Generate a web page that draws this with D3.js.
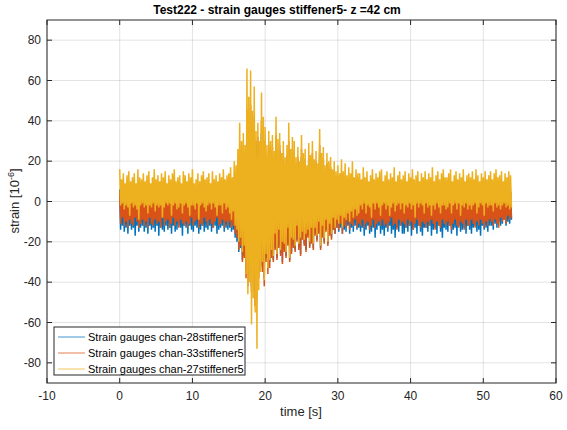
<!DOCTYPE html>
<html>
<head>
<meta charset="UTF-8">
<script src="https://d3js.org/d3.v7.min.js"></script>
<style>
  body { margin: 0; background: #fff; font-family: "Liberation Sans", Arial, sans-serif; }
  .grid line { stroke: #262626; stroke-opacity: 0.13; stroke-width: 1; }
  .tick-label { font-size: 12px; fill: #262626; }
</style>
</head>
<body>
<svg id="chart" width="567" height="430"></svg>
<script>
// one envelope sample every 0.25 s from t = 0 (12 samples = 3 s per row)
const step = 0.25;

// chan-28 (blue): upper / lower envelope
const blueHi = [
  6,3,7,4,5,2,6,4,7,3,5,4,  4,6,3,7,5,2,6,4,5,3,7,4,  5,3,6,4,7,2,5,6,3,4,6,5,
  3,6,4,5,7,3,4,6,2,5,4,6,  5,4,6,3,5,7,4,2,6,4,5,3,  6,8,5,10,12,16,20,18,24,20,38,32,
  40,30,35,26,28,22,34,29,26,20,24,22,  23,18,28,22,25,17,21,16,20,26,19,22,  21,16,19,14,22,17,18,13,20,16,21,15,
  17,13,24,16,18,12,16,14,15,11,13,10,  10,8,12,9,11,7,10,8,11,6,9,7,  5,3,6,4,7,2,5,4,6,3,5,4,
  4,6,3,5,7,4,2,6,4,5,3,6,  5,3,7,4,5,2,6,4,3,5,6,4,  6,4,5,3,7,4,5,2,6,4,5,3,
  3,5,6,4,2,6,4,5,7,3,5,4,  4,6,3,5,4,7,3,5,4,6,2,5,  5,3,6,4,5,3,6,4,5,3,4,5];
const blueLo = [
  -14,-12,-15,-13,-16,-12,-14,-13,-17,-12,-15,-13,  -12,-15,-13,-16,-12,-14,-13,-15,-12,-17,-13,-14,  -15,-12,-14,-13,-16,-12,-15,-14,-12,-13,-17,-12,
  -13,-16,-12,-14,-15,-12,-13,-16,-14,-12,-15,-13,  -14,-12,-15,-13,-12,-16,-14,-13,-12,-15,-13,-14,  -13,-15,-14,-18,-20,-25,-23,-29,-27,-34,-38,-33,
  -42,-37,-45,-40,-35,-30,-33,-38,-28,-32,-30,-26,  -29,-23,-28,-22,-26,-30,-24,-27,-21,-29,-25,-22,  -24,-19,-23,-26,-18,-21,-24,-17,-22,-20,-23,-16,
  -19,-15,-23,-17,-20,-14,-21,-16,-18,-14,-16,-13,  -15,-13,-16,-14,-15,-12,-16,-13,-15,-12,-14,-13,  -15,-13,-17,-14,-12,-16,-15,-13,-18,-14,-12,-16,
  -14,-17,-13,-15,-12,-16,-14,-18,-13,-15,-12,-16,  -16,-13,-15,-12,-17,-14,-13,-16,-12,-15,-17,-13,  -13,-15,-12,-17,-14,-13,-16,-12,-15,-18,-13,-14,
  -15,-12,-16,-14,-13,-17,-12,-15,-14,-13,-16,-12,  -14,-16,-13,-12,-15,-14,-17,-12,-14,-13,-15,-12,  -12,-14,-11,-13,-10,-12,-11,-9,-12,-10,-11,-9];

// chan-33 (orange)
const orangeHi = [
  5,2,7,3,4,1,6,3,5,2,4,6,  3,5,2,6,4,1,5,3,7,2,4,3,  4,6,2,5,3,7,1,4,5,2,6,3,
  2,5,4,7,3,1,5,4,2,6,3,5,  4,2,6,3,5,1,4,7,2,5,3,4,  5,8,6,12,14,20,25,22,28,24,45,38,
  48,36,42,30,32,25,40,34,30,22,28,25,  27,20,33,25,28,19,24,18,23,30,21,26,  24,18,22,16,26,19,21,14,23,18,24,17,
  20,15,28,19,21,14,19,16,17,12,15,11,  12,9,14,10,12,8,11,9,12,7,10,8,  5,2,6,3,4,1,5,3,6,2,4,5,
  3,5,2,6,4,1,5,3,6,2,4,3,  4,2,6,3,5,2,4,7,3,5,2,4,  6,3,4,2,5,3,6,1,4,5,3,6,
  2,5,3,6,4,2,5,3,7,2,4,5,  3,6,2,4,5,3,6,2,4,3,5,2,  5,3,6,2,4,5,3,6,2,4,3,5];
const orangeLo = [
  -11,-8,-12,-10,-13,-9,-11,-12,-8,-10,-13,-11,  -9,-12,-10,-13,-8,-11,-12,-9,-11,-10,-13,-8,  -12,-10,-9,-13,-11,-8,-12,-10,-13,-9,-11,-12,
  -10,-13,-11,-8,-12,-10,-9,-13,-11,-12,-8,-10,  -12,-9,-11,-13,-10,-8,-12,-11,-9,-13,-10,-12,  -10,-13,-12,-16,-18,-24,-22,-30,-28,-38,-42,-35,
  -45,-40,-52,-48,-38,-32,-35,-42,-30,-36,-33,-28,  -30,-24,-29,-23,-27,-31,-25,-28,-22,-30,-26,-23,  -25,-20,-24,-27,-19,-22,-25,-18,-23,-21,-24,-17,
  -20,-16,-24,-18,-21,-15,-22,-17,-19,-14,-16,-13,  -14,-11,-16,-12,-13,-10,-14,-11,-12,-9,-13,-11,  -12,-9,-13,-11,-10,-14,-12,-9,-13,-11,-10,-12,
  -9,-12,-11,-13,-10,-8,-12,-11,-14,-9,-12,-10,  -11,-13,-9,-12,-10,-14,-11,-9,-12,-13,-10,-11,  -13,-10,-12,-9,-11,-14,-10,-12,-13,-9,-11,-12,
  -10,-12,-14,-11,-9,-12,-13,-10,-11,-14,-9,-12,  -12,-9,-11,-13,-10,-12,-9,-11,-13,-10,-12,-9,  -10,-12,-9,-11,-13,-8,-10,-9,-11,-7,-9,-8];

// chan-27 (yellow)
const yellowHi = [
  16,11,14,9,13,15,10,12,14,9,16,12,  11,14,10,13,15,9,12,16,11,13,10,14,  12,15,9,13,11,14,16,10,12,13,9,15,
  13,10,14,12,16,9,11,14,10,13,15,11,  12,14,9,15,11,13,10,14,12,16,11,13,  14,17,12,20,18,26,39,30,34,28,66,52,
  65,45,57,35,39,30,54,42,37,28,35,30,  33,25,42,31,34,24,30,22,28,39,26,32,  30,22,27,20,33,24,26,18,29,23,30,21,
  25,19,36,24,27,18,24,20,22,16,20,15,  18,14,21,15,19,13,17,14,20,12,16,14,  14,11,17,12,15,10,13,16,11,14,12,15,
  16,10,13,15,11,14,12,17,10,13,15,11,  13,15,10,14,12,16,11,13,15,10,14,12,  15,11,14,12,17,10,13,15,11,14,16,12,
  12,14,16,10,13,15,11,14,12,16,10,13,  14,12,15,11,16,13,10,14,12,15,11,13,  15,11,14,16,12,13,15,10,14,12,15,13];
const yellowLo = [
  -2,-1,-4,-2,-3,-7,-1,-3,-2,-4,-9,-2,  -1,-3,-2,-6,-2,-3,-1,-5,-2,-3,-2,-8,  -3,-1,-2,-1,-7,-2,-1,-4,-3,-1,-6,-2,
  -1,-3,-7,-2,-2,-4,-1,-9,-2,-1,-3,-5,  -2,-1,-4,-1,-3,-7,-2,-2,-6,-1,-4,-3,  -6,-9,-5,-12,-14,-20,-18,-25,-22,-36,-46,-40,
  -61,-48,-55,-73,-44,-35,-30,-39,-26,-33,-29,-24,  -27,-16,-26,-14,-24,-20,-21,-25,-13,-28,-18,-19,  -22,-12,-21,-18,-15,-19,-16,-14,-20,-13,-21,-13,
  -17,-10,-22,-12,-18,-9,-20,-11,-16,-8,-13,-9,  -11,-7,-13,-8,-9,-6,-10,-5,-8,-4,-7,-6,  -2,-4,-1,-6,-2,-3,-8,-1,-4,-1,-3,-7,
  -2,-1,-4,-2,-7,-3,-1,-5,-2,-1,-4,-1,  -6,-2,-3,-1,-4,-2,-8,-1,-3,-1,-2,-6,  -1,-3,-2,-7,-2,-4,-1,-3,-6,-2,-2,-4,
  -3,-1,-6,-2,-1,-4,-1,-7,-2,-3,-1,-4,  -2,-4,-2,-1,-6,-3,-1,-2,-7,-1,-3,-2,  -2,-5,-1,-3,-2,-4,-2,-1,-3,-2,-4,-3];

const seriesNames = ["Strain gauges chan-28stiffener5", "Strain gauges chan-33stiffener5", "Strain gauges chan-27stiffener5"];
const seriesColors = ["#0072BD", "#D95319", "#EDB120"];
const xTicks = [-10, 0, 10, 20, 30, 40, 50, 60];
const yTicks = [-80, -60, -40, -20, 0, 20, 40, 60, 80];

const svg = d3.select("#chart");
const m = { left: 47, right: 556, top: 20, bottom: 383 };
const x = d3.scaleLinear().domain([-10, 60]).range([m.left, m.right]);
const y = d3.scaleLinear().domain([-90, 90]).range([m.bottom, m.top]);

// grid
const grid = svg.append("g").attr("class", "grid");
xTicks.forEach(t => grid.append("line").attr("x1", x(t)).attr("x2", x(t)).attr("y1", m.top).attr("y2", m.bottom));
yTicks.forEach(t => grid.append("line").attr("y1", y(t)).attr("y2", y(t)).attr("x1", m.left).attr("x2", m.right));

// signals: zigzag between the read upper and lower envelope
const line = d3.line().x(d => x(d[0])).y(d => y(d[1]));
const toPoints = (hi, lo) => {
  const pts = [];
  hi.forEach((h, i) => {
    pts.push([i * step, h]);
    pts.push([i * step + step / 2, lo[i]]);
  });
  return pts;
};
const series = [[blueHi, blueLo], [orangeHi, orangeLo], [yellowHi, yellowLo]];
series.forEach((s, k) => {
  svg.append("path")
    .attr("d", line(toPoints(s[0], s[1])))
    .attr("fill", "none")
    .attr("stroke", seriesColors[k])
    .attr("stroke-width", 1.5)
    .attr("stroke-linejoin", "bevel");
});

// box + ticks on all sides
svg.append("rect").attr("x", m.left).attr("y", m.top)
  .attr("width", m.right - m.left).attr("height", m.bottom - m.top)
  .attr("fill", "none").attr("stroke", "#262626").attr("stroke-width", 1);
const tk = 5;
const ticks = svg.append("g").attr("stroke", "#262626").attr("stroke-width", 1);
xTicks.forEach(t => {
  ticks.append("line").attr("x1", x(t)).attr("x2", x(t)).attr("y1", m.bottom).attr("y2", m.bottom - tk);
  ticks.append("line").attr("x1", x(t)).attr("x2", x(t)).attr("y1", m.top).attr("y2", m.top + tk);
  svg.append("text").attr("class", "tick-label").attr("x", x(t)).attr("y", 400)
    .attr("text-anchor", "middle").text(t);
});
yTicks.forEach(t => {
  ticks.append("line").attr("y1", y(t)).attr("y2", y(t)).attr("x1", m.left).attr("x2", m.left + tk);
  ticks.append("line").attr("y1", y(t)).attr("y2", y(t)).attr("x1", m.right).attr("x2", m.right - tk);
  svg.append("text").attr("class", "tick-label").attr("x", 41).attr("y", y(t) + 4)
    .attr("text-anchor", "end").text(t);
});

// title and axis labels
svg.append("text").attr("x", 277).attr("y", 14).attr("text-anchor", "middle")
  .attr("font-size", "12px").attr("font-weight", "bold").attr("fill", "#000")
  .text("Test222 - strain gauges stiffener5- z =42 cm");
svg.append("text").attr("x", 301).attr("y", 416).attr("text-anchor", "middle")
  .attr("font-size", "13px").attr("fill", "#262626").text("time [s]");
const yl = svg.append("text").attr("transform", "translate(19,201) rotate(-90)")
  .attr("text-anchor", "middle").attr("font-size", "13px").attr("fill", "#262626");
yl.append("tspan").text("strain [10");
yl.append("tspan").attr("dy", -5).attr("font-size", "9px").text("-6");
yl.append("tspan").attr("dy", 5).text("]");

// legend
const lg = svg.append("g");
lg.append("rect").attr("x", 54).attr("y", 327).attr("width", 191).attr("height", 48)
  .attr("fill", "#fff").attr("stroke", "#262626").attr("stroke-width", 1);
seriesNames.forEach((n, i) => {
  const ly = 337 + i * 16;
  lg.append("line").attr("x1", 58).attr("x2", 85).attr("y1", ly).attr("y2", ly)
    .attr("stroke", seriesColors[i]).attr("stroke-width", 1).attr("stroke-opacity", 0.75);
  lg.append("text").attr("x", 88).attr("y", ly + 4).attr("font-size", "11px").attr("fill", "#000").text(n);
});
</script>
</body>
</html>
